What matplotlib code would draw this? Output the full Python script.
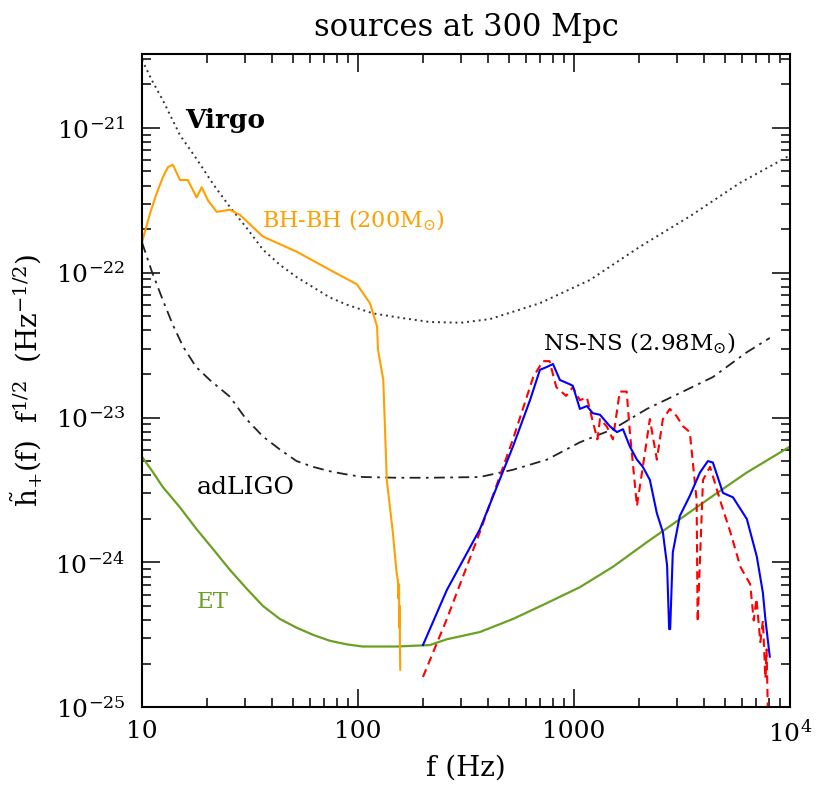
import numpy as np
import matplotlib
matplotlib.use('Agg')
import matplotlib.pyplot as plt
from matplotlib.ticker import LogLocator, NullFormatter

plt.rcParams['font.family'] = ['DejaVu Serif']
plt.rcParams['mathtext.fontset'] = 'dejavuserif'

# Virgo sensitivity (dotted)
virgo_f = [10, 11.1, 12.5, 15, 18, 21.4, 25.5, 30.5, 36.3, 43.5, 52, 62, 74, 88.6, 117, 156,
           215, 300, 408, 696, 1186, 2022, 3444, 5870, 10000]
virgo_logh = [-20.53, -20.67, -20.81, -21.05, -21.22, -21.39, -21.545, -21.69, -21.84, -21.945,
              -22.03, -22.10, -22.17, -22.22, -22.28, -22.31, -22.34, -22.345, -22.32, -22.21,
              -22.05, -21.82, -21.61, -21.38, -21.19]

# adLIGO sensitivity (dash-dot)
ligo_f = [10, 11.1, 12.5, 13.9, 15.5, 17.8, 20.6, 25.5, 30, 36.3, 43.5, 52, 62, 74, 87, 105,
          151, 215, 367, 522, 750, 1067, 1515, 2177, 3100, 4400, 6300, 8070]
ligo_logh = [-21.79, -21.99, -22.19, -22.36, -22.51, -22.65, -22.74, -22.855, -23.0, -23.13,
             -23.22, -23.30, -23.34, -23.37, -23.39, -23.41, -23.415, -23.415, -23.41, -23.36,
             -23.29, -23.17, -23.08, -22.94, -22.83, -22.72, -22.55, -22.45]

# ET sensitivity (green)
et_f = [10, 11.16, 12.5, 15, 17.9, 21.4, 25.5, 30.5, 36.3, 43.5, 52, 62.1, 74, 88.6, 105, 151,
        215, 258, 367, 522, 750, 1067, 1515, 2177, 3100, 4400, 6300, 10000]
et_logh = [-23.27, -23.37, -23.48, -23.62, -23.77, -23.91, -24.05, -24.18, -24.30, -24.39,
           -24.45, -24.50, -24.54, -24.565, -24.58, -24.58, -24.57, -24.53, -24.48, -24.39,
           -24.28, -24.17, -24.03, -23.86, -23.70, -23.54, -23.38, -23.20]

# BH-BH signal (orange)
bh_f = [10, 10.9, 11.7, 12.5, 13.2, 13.9, 15.0, 16.3, 17.9, 18.9, 20.2, 22.2, 25.5, 28.4, 36.3,
        52.1, 74.1, 98.9, 113.6, 122.6, 123.8, 131, 136, 145, 151, 153, 154, 155, 155.5, 156,
        156.5, 157]
bh_logh = [-21.79, -21.59, -21.45, -21.34, -21.27, -21.255, -21.36, -21.36, -21.48, -21.41,
           -21.50, -21.58, -21.565, -21.60, -21.75, -21.855, -21.98, -22.08, -22.21, -22.37,
           -22.53, -22.74, -23.43, -23.79, -24.07, -24.12, -24.25, -24.15, -24.45, -24.3,
           -24.6, -24.74]

# NS-NS signal, solid blue
ns1_f = [200, 258, 367, 522, 626, 696, 750, 800, 861, 958, 988, 1066, 1148, 1224, 1320, 1468,
         1582, 1687, 1816, 1958, 2085, 2247, 2421, 2581, 2700, 2760, 2790, 2870, 3090, 3440,
         3830, 4170, 4400, 4900, 5450, 6320, 7030, 7500, 7700, 8070]
ns1_logh = [-24.57, -24.19, -23.77, -23.20, -22.88, -22.67, -22.65, -22.63, -22.74, -22.77,
            -22.78, -22.94, -22.92, -22.97, -22.98, -23.06, -23.10, -23.08, -23.20, -23.29,
            -23.34, -23.43, -23.66, -23.79, -24.02, -24.46, -24.46, -23.93, -23.68, -23.54,
            -23.38, -23.30, -23.31, -23.52, -23.55, -23.70, -23.96, -24.21, -24.39, -24.65]

# NS-NS signal, dashed red
ns2_f = [200, 258, 367, 522, 648, 718, 771, 829, 920, 988, 1066, 1148, 1224, 1285, 1320, 1418,
         1515, 1630, 1755, 1816, 1958, 2085, 2247, 2421, 2581, 2780, 2990, 3200, 3440, 3700,
         3740, 3960, 4270, 4750, 5300, 5900, 6550, 6800, 7000, 7300, 7500, 7700, 7800, 7900]
ns2_logh = [-24.79, -24.39, -23.79, -23.15, -22.72, -22.61, -22.61, -22.79, -22.85, -22.79,
            -22.88, -22.86, -23.03, -23.15, -23.01, -23.06, -23.15, -22.82, -22.82, -23.10,
            -23.61, -23.34, -23.01, -23.29, -23.01, -22.94, -22.99, -23.06, -23.10, -23.57,
            -24.41, -23.43, -23.34, -23.57, -23.79, -24.03, -24.15, -24.40, -24.25, -24.55,
            -24.40, -24.80, -24.60, -25.00]

xticks = [10, 100, 1000, 10000]
xtick_labels = ['10', '100', '1000', '$10^4$']
yticks = [1e-25, 1e-24, 1e-23, 1e-22, 1e-21]
ytick_labels = ['$10^{-25}$', '$10^{-24}$', '$10^{-23}$', '$10^{-22}$', '$10^{-21}$']

fig = plt.figure(figsize=(8.16, 7.93), dpi=100)
ax = fig.add_subplot(111)
fig.subplots_adjust(left=0.174, right=0.968, top=0.932, bottom=0.108)

ax.plot(virgo_f, 10**np.array(virgo_logh), color='#333333', lw=1.4, ls=(0, (1, 2.0)))
ax.plot(ligo_f, 10**np.array(ligo_logh), color='#222222', lw=1.3, ls=(0, (6, 3, 1.5, 3)))
ax.plot(et_f, 10**np.array(et_logh), color='#6ba023', lw=1.6)
ax.plot(bh_f, 10**np.array(bh_logh), color='#ffa000', lw=1.5)
ax.plot(ns2_f, 10**np.array(ns2_logh), color='#ff0000', lw=1.5, ls=(0, (4, 2.5)))
ax.plot(ns1_f, 10**np.array(ns1_logh), color='#0000ff', lw=1.5)

ax.set_xscale('log')
ax.set_yscale('log')
ax.set_xlim(10, 1e4)
ax.set_ylim(1e-25, 3.24e-21)

ax.set_xticks(xticks, xtick_labels)
ax.set_yticks(yticks, ytick_labels)
ax.xaxis.set_minor_locator(LogLocator(base=10, subs=np.arange(2, 10)))
ax.yaxis.set_minor_locator(LogLocator(base=10, subs=np.arange(2, 10), numticks=20))
ax.xaxis.set_minor_formatter(NullFormatter())
ax.yaxis.set_minor_formatter(NullFormatter())
ax.tick_params(which='both', direction='in', top=True, right=True, width=1.1, labelsize=18)
ax.tick_params(which='major', length=13)
ax.tick_params(which='minor', length=6.5)
ax.tick_params(axis='x', pad=9)
ax.tick_params(axis='y', pad=12)
for s in ax.spines.values():
    s.set_linewidth(1.5)

ax.text(15.8, 1.13e-21, 'Virgo', fontsize=19, fontweight='bold', ha='left', va='center')
ax.text(36, 2.29e-22, r'BH-BH (200$\mathrm{M}_{\odot}$)', fontsize=16, color='#ffa000',
        ha='left', va='center')
ax.text(718, 3.24e-23, r'NS-NS (2.98$\mathrm{M}_{\odot}$)', fontsize=16.5, ha='left', va='center')
ax.text(18, 3.3e-24, 'adLIGO', fontsize=18, ha='left', va='center')
ax.text(18, 5.3e-25, 'ET', fontsize=16.5, color='#6ba023', ha='left', va='center')

ax.set_title('sources at 300 Mpc', fontsize=22, pad=13)
ax.set_xlabel('f (Hz)', fontsize=20, labelpad=6)
ax.set_ylabel(r'$\tilde{\mathrm{h}}_{+}(\mathrm{f})\ \ \mathrm{f}^{1/2}\ \ (\mathrm{Hz}^{-1/2})$',
              fontsize=20, labelpad=8)

plt.savefig('out.png', dpi=100)
